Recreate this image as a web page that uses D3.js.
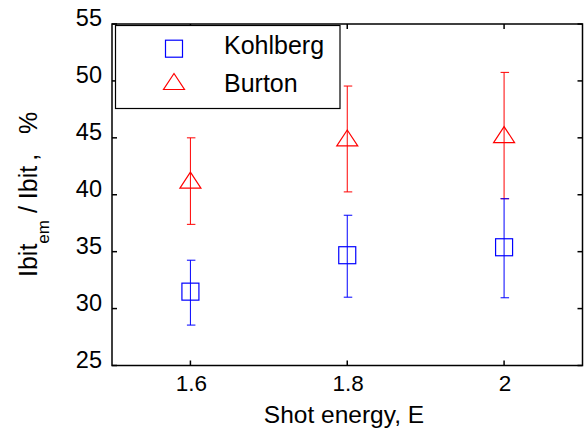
<!DOCTYPE html>
<html>
<head>
<meta charset="utf-8">
<script src="https://cdn.jsdelivr.net/npm/d3@7"></script>
<style>
  html, body { margin: 0; padding: 0; background: #fff; }
  svg { display: block; font-family: "Liberation Sans", Arial, Helvetica, sans-serif; }
  text { white-space: pre; }
</style>
</head>
<body>
<svg id="chart" width="584" height="430"></svg>
<script>
// Shot energies on the x axis
const energies = [1.6, 1.8, 2.0];
const xTickValues = [1.6, 1.8, 2.0];
const xTickLabels = ["1.6", "1.8", "2"];
const yTickValues = [25, 30, 35, 40, 45, 50, 55];

// Kohlberg series: mean and symmetric error
const kohlberg = [31.4, 34.6, 35.3];
const kohlbergErr = [2.85, 3.6, 4.35];

// Burton series: mean and symmetric error
const burton = [41.2, 44.9, 45.2];
const burtonErr = [3.8, 4.65, 5.55];

const seriesNames = ["Kohlberg", "Burton"];

const svg = d3.select("#chart");
const plotL = 112, plotR = 582.5, plotT = 24, plotB = 365.5;

const x = d3.scaleLinear().domain([1.5, 2.1]).range([plotL, plotR]);
const y = d3.scaleLinear().domain([25, 55]).range([plotB, plotT]);

const blue = "#0000ff", red = "#ff0000";
const tickLen = 5;

// Plot frame
svg.append("rect")
  .attr("x", plotL).attr("y", plotT)
  .attr("width", plotR - plotL).attr("height", plotB - plotT)
  .attr("fill", "none").attr("stroke", "#000").attr("stroke-width", 1.5);

// Inward ticks on all four sides
const tickG = svg.append("g").attr("stroke", "#000").attr("stroke-width", 1.5);
yTickValues.forEach(v => {
  tickG.append("line").attr("x1", plotL).attr("x2", plotL + tickLen).attr("y1", y(v)).attr("y2", y(v));
  tickG.append("line").attr("x1", plotR).attr("x2", plotR - tickLen).attr("y1", y(v)).attr("y2", y(v));
});
xTickValues.forEach(v => {
  tickG.append("line").attr("x1", x(v)).attr("x2", x(v)).attr("y1", plotB).attr("y2", plotB - tickLen);
  tickG.append("line").attr("x1", x(v)).attr("x2", x(v)).attr("y1", plotT).attr("y2", plotT + tickLen);
});

// Tick labels
svg.append("g").selectAll("text").data(yTickValues).join("text")
  .attr("x", 102).attr("y", d => y(d) + 2)
  .attr("text-anchor", "end").attr("font-size", 23.5).attr("fill", "#000")
  .text(d => d);

svg.append("g").selectAll("text").data(xTickValues).join("text")
  .attr("x", d => x(d) + 1).attr("y", 391)
  .attr("text-anchor", "middle").attr("font-size", 22.5).attr("fill", "#000")
  .text((d, i) => xTickLabels[i]);

// Axis titles
svg.append("text")
  .attr("x", 344).attr("y", 423)
  .attr("text-anchor", "middle").attr("font-size", 24.5).attr("fill", "#000")
  .text("Shot energy, E");

const yl = svg.append("text")
  .attr("transform", "rotate(-90)")
  .attr("x", -277).attr("y", 37)
  .attr("font-size", 25).attr("fill", "#000");
yl.append("tspan").text("Ibit");
yl.append("tspan").attr("font-size", 17).attr("dy", 12).text("em");
yl.append("tspan").attr("dy", -12).text(" / Ibit");
yl.append("tspan").attr("dx", 5).text(",");
yl.append("tspan").attr("dx", 20).text("%");

// Error bars
function errorBars(vals, errs, color) {
  const g = svg.append("g").attr("stroke", color).attr("stroke-width", 1).attr("fill", "none");
  energies.forEach((e, i) => {
    const cx = x(e);
    const y1 = y(vals[i] + errs[i]), y0 = y(vals[i] - errs[i]);
    g.append("line").attr("x1", cx).attr("x2", cx).attr("y1", y1).attr("y2", y0);
    g.append("line").attr("x1", cx - 3.5).attr("x2", cx + 5).attr("y1", y1).attr("y2", y1);
    g.append("line").attr("x1", cx - 3.5).attr("x2", cx + 5).attr("y1", y0).attr("y2", y0);
  });
  return g;
}
errorBars(burton, burtonErr, red);
errorBars(kohlberg, kohlbergErr, blue);

// Markers
const sq = 17;
function square(g, cx, cy) {
  g.append("rect").attr("x", cx - sq / 2).attr("y", cy - sq / 2 - 1)
    .attr("width", sq).attr("height", sq)
    .attr("fill", "none").attr("stroke", blue).attr("stroke-width", 1.2);
}
function triangle(g, cx, cy) {
  const pts = [[cx, cy - 9], [cx - 10.5, cy + 7], [cx + 10.5, cy + 7]];
  g.append("polygon").attr("points", pts.map(p => p.join(",")).join(" "))
    .attr("fill", "none").attr("stroke", red).attr("stroke-width", 1.2);
}
const markG = svg.append("g");
energies.forEach((e, i) => {
  square(markG, x(e), y(kohlberg[i]));
  triangle(markG, x(e), y(burton[i]));
});

// Legend
const lg = svg.append("g");
lg.append("rect")
  .attr("x", 115.5).attr("y", 25.5).attr("width", 224.5).attr("height", 83)
  .attr("fill", "#fff").attr("stroke", "#000").attr("stroke-width", 1.2);
square(lg, 174, 49.7);
triangle(lg, 174, 82.5);
lg.append("text").attr("x", 224).attr("y", 53.5).attr("font-size", 25).attr("fill", "#000").text(seriesNames[0]);
lg.append("text").attr("x", 224).attr("y", 91.5).attr("font-size", 25).attr("fill", "#000").text(seriesNames[1]);
</script>
</body>
</html>
